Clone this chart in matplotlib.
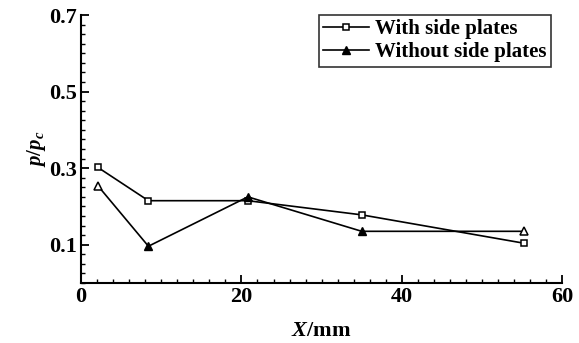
import numpy as np
from matplotlib import pyplot as plt
from matplotlib.ticker import MultipleLocator, FixedLocator

# positions along X (mm)
x_with = [2.1, 8.4, 20.8, 35.0, 55.2]
p_with = [0.302, 0.215, 0.215, 0.178, 0.104]

x_without = [2.1, 8.4, 20.8, 35.0, 55.2]
p_without = [0.254, 0.096, 0.225, 0.135, 0.135]

plt.rcParams['font.family'] = ['Liberation Serif', 'DejaVu Serif']
plt.rcParams['font.weight'] = 'bold'
plt.rcParams['mathtext.fontset'] = 'custom'
plt.rcParams['mathtext.it'] = 'Liberation Serif:italic:bold'
plt.rcParams['mathtext.rm'] = 'Liberation Serif:bold'

fig = plt.figure(figsize=(5.79, 3.43), dpi=100)
ax = fig.add_axes([0.14, 0.175, 0.831, 0.781])

ax.plot(x_with, p_with, '-', color='black', lw=1.2, marker='s', ms=5,
        mfc='white', mec='black', mew=1.1, label='With side plates')
ax.plot(x_without, p_without, '-', color='black', lw=1.2, marker='^', ms=6,
        mfc='black', mec='black', markevery=[1, 2, 3], label='Without side plates')
# first and last triangles are drawn hollow in the original
ax.plot(x_without, p_without, 'none', marker='^', ms=6, mfc='white', mec='black',
        mew=1.1, markevery=[0, 4])

ax.set_xlim(0, 60)
ax.set_ylim(0, 0.7)

ax.spines['top'].set_visible(False)
ax.spines['right'].set_visible(False)
for s in ('left', 'bottom'):
    ax.spines[s].set_linewidth(1.5)

ax.xaxis.set_major_locator(FixedLocator([0, 20, 40, 60]))
ax.xaxis.set_minor_locator(MultipleLocator(2))
ax.yaxis.set_major_locator(FixedLocator([0.1, 0.3, 0.5, 0.7]))
ax.yaxis.set_minor_locator(MultipleLocator(0.025))
ax.set_yticklabels(['0.1', '0.3', '0.5', '0.7'])
ax.tick_params(which='major', direction='in', length=6, width=1.3, labelsize=16, pad=3)
ax.tick_params(which='minor', direction='in', length=3, width=1.0)

ax.set_xlabel(r'$X$/mm', fontsize=16, fontweight='bold', labelpad=10)
ax.set_ylabel(r'$p/p_c$', fontsize=15, labelpad=1)

leg = ax.legend(loc='upper right', bbox_to_anchor=(0.977, 1.0), fontsize=15,
                frameon=True, fancybox=False, edgecolor='black', handlelength=2.2,
                handletextpad=0.3, borderpad=0.2, labelspacing=0.15, borderaxespad=0.0)
leg.get_frame().set_linewidth(1.2)

fig.savefig('out.png', dpi=100)
